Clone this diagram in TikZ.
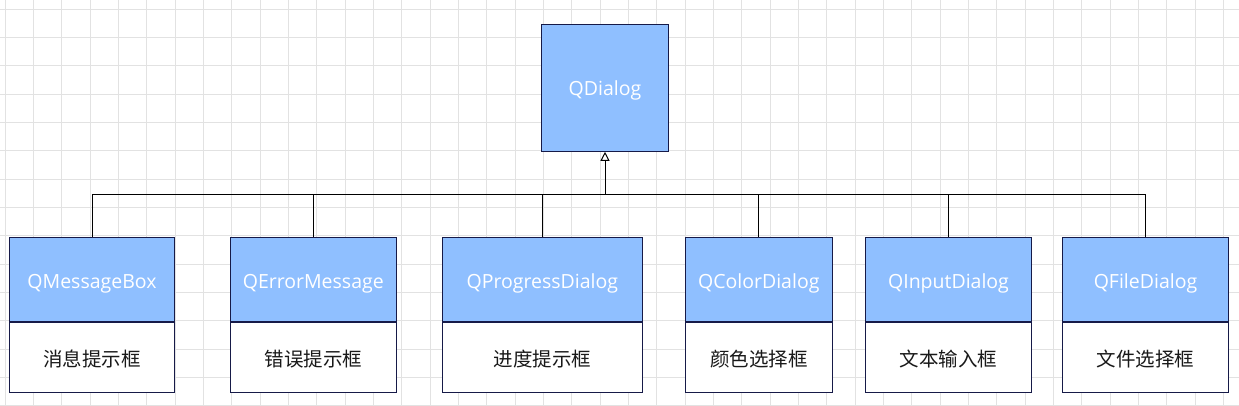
\documentclass[tikz,border=0pt]{standalone}
\usepackage{fontspec}
\setmainfont{Open Sans}
\newfontfamily\cjk{Noto Sans CJK SC}
\usetikzlibrary{arrows.meta}
\definecolor{boxfill}{RGB}{143,191,255}
\definecolor{boxline}{RGB}{22,26,72}
\definecolor{gridgray}{RGB}{226,226,226}
\begin{document}
\begin{tikzpicture}[x=1pt,y=-1pt,
    gridline/.style={gridgray,line width=1pt},
    head/.style={draw=boxline,fill=boxfill,line width=1pt,text=white,
      minimum height=84pt,inner sep=0pt,text height=23pt,text depth=5pt,
      font=\fontsize{19.5}{22}\selectfont},
    body/.style={draw=boxline,fill=white,line width=1pt,text=black!90,
      minimum height=70.5pt,inner sep=0pt,text height=23pt,text depth=5pt,
      font=\cjk\fontsize{19.5}{22}\selectfont},
    edge/.style={line width=1pt,black}]
  \useasboundingbox (0,0) rectangle (1239,406);
  % background grid
  \foreach \i in {0,...,43}
    \draw[gridline] ({5+28.333*\i},0) -- ({5+28.333*\i},406);
  \foreach \j in {0,...,14}
    \draw[gridline] (0,{9.33+28.333*\j}) -- (1239,{9.33+28.333*\j});
  \node[head,minimum width=127pt,minimum height=127pt,text height=20pt] (d) at (605,87.8) {QDialog};
  \draw
    (92,279.3) node[head,minimum width=164.6pt] (0h) {QMessageBox}
    (313.3,279.3) node[head,minimum width=166pt] (1h) {QErrorMessage}
    (542.3,279.3) node[head,minimum width=200pt] (2h) {QProgressDialog}
    (758.8,279.3) node[head,minimum width=147pt] (3h) {QColorDialog}
    (948.5,279.3) node[head,minimum width=165.6pt] (4h) {QInputDialog}
    (1145.5,279.3) node[head,minimum width=165.6pt] (5h) {QFileDialog};
  \node[body,minimum width=164.6pt,anchor=north] (0b) at (0h.south) {消息提示框};
  \node[body,minimum width=166pt,anchor=north] (1b) at (1h.south) {错误提示框};
  \node[body,minimum width=200pt,anchor=north] (2b) at (2h.south) {进度提示框};
  \node[body,minimum width=147pt,anchor=north] (3b) at (3h.south) {颜色选择框};
  \node[body,minimum width=165.6pt,anchor=north] (4b) at (4h.south) {文本输入框};
  \node[body,minimum width=165.6pt,anchor=north] (5b) at (5h.south) {文件选择框};
  \coordinate (bus) at (605,195);
  \begin{scope}[edge]
    \draw (0h.north) |- (bus);
    \draw (1h.north) |- (bus);
    \draw (2h.north) |- (bus);
    \draw (3h.north) |- (bus);
    \draw (4h.north) |- (bus);
    \draw (5h.north) |- (bus);
    \draw[-{Triangle[open,length=9pt,width=9pt]}] (bus) -- (d.south);
  \end{scope}
\end{tikzpicture}
\end{document}
